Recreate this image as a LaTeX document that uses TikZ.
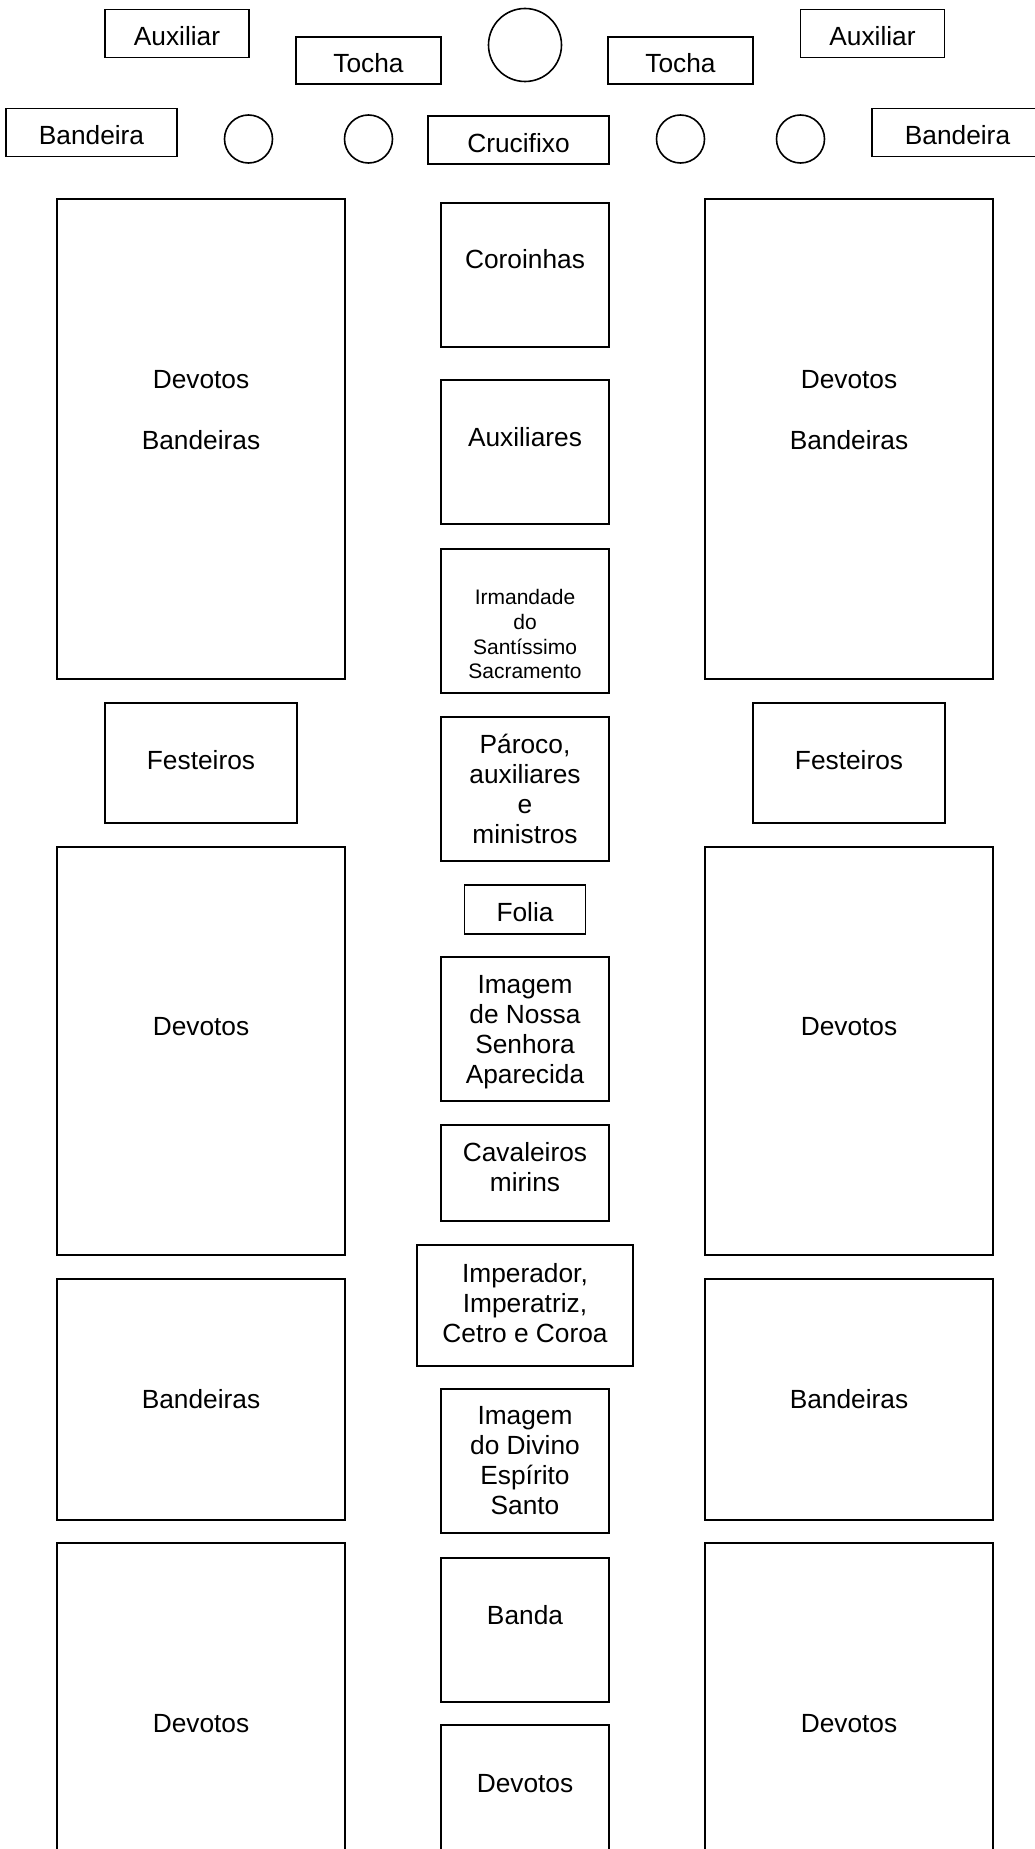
\documentclass[tikz,border=0pt]{standalone}
\usepackage{fontspec}
\setmainfont{Liberation Sans}
\usetikzlibrary{positioning}

\begin{document}
\begin{tikzpicture}[x=1pt,y=-1pt]
        \tikzset{block/.style={draw, rectangle, align=center, inner sep=0pt, outer sep=0pt, line width=1.6pt,
            font=\fontsize{26.3}{30}\selectfont},
        wide/.style={block, minimum width=288pt},
        lane/.style={block, minimum width=168pt, minimum height=144pt},
        small/.style={block, minimum width=144pt, minimum height=48pt, text height=25pt},
        torch/.style={draw, circle, inner sep=0pt, outer sep=0pt, line width=1.6pt, minimum size=48pt},
        lift/.style={text depth=#1},
        }
        \useasboundingbox (0,0) rectangle (1035,1849);
        \clip (0,0) rectangle (1035,1849);
%% front of the procession
        \node [torch, minimum size=73pt] (cruz) at (525,45) {};
        \node [small] (auxl) at (177,33.5) {Auxiliar};
        \node [small, minimum width=145pt, minimum height=47pt] (tochal) at (368.5,60.5) {Tocha};
        \node [small, minimum width=145pt, minimum height=47pt] (tochar) at (680.5,60.5) {Tocha};
        \node [small] (auxr) at (872.5,33.5) {Auxiliar};
        \node [small, minimum width=171pt] (bandl) at (91.5,132.5) {Bandeira};
        \node [small, minimum width=171pt] (bandr) at (957.5,132.5) {Bandeira};
        \node [torch] (vela1) at (248.5,139) {};
        \node [torch] (vela2) at (368.5,139) {};
        \node [small, minimum width=181pt] (crucifixo) at (518.5,140) {Crucifixo};
        \node [torch] (vela3) at (680.5,139) {};
        \node [torch] (vela4) at (800.5,139) {};
%% middle lane
        \node [lane, lift=32pt] (coro) at (525,275) {Coroinhas};
        \node [lane, lift=31pt, below=33pt of coro] (auxs) {Auxiliares};
        \node [lane, font=\fontsize{21}{24.8}\selectfont, text height=115.7pt, lift=0pt, below=25pt of auxs] (irm)
            {Irmandade\\do\\Santíssimo\\Sacramento};
        \node [lane, below=24pt of irm] (paroco) {Pároco,\\auxiliares\\e\\ministros};
        \node [block, minimum width=121pt, minimum height=49pt, text height=24pt, below=24pt of paroco] (folia) {Folia};
        \node [lane, lift=0pt, below=23pt of folia] (nossa) {Imagem\\de Nossa\\Senhora\\Aparecida};
        \node [lane, minimum height=96pt, lift=13pt, below=24pt of nossa] (cav) {Cavaleiros\\mirins};
        \node [lane, minimum width=216pt, minimum height=121pt, lift=5pt, below=24pt of cav] (imp)
            {Imperador,\\Imperatriz,\\Cetro e Coroa};
        \node [lane, below=23pt of imp] (divino) {Imagem\\do Divino\\Espírito\\Santo};
        \node [lane, lift=30pt, below=25pt of divino] (banda) {Banda};
        \node [lane, lift=28pt, below=23pt of banda] (devc) {Devotos};
%% left side
        \node [wide, minimum height=480pt, lift=59pt] (devl) at (201,439) {Devotos\\[31pt]Bandeiras};
        \node [block, minimum width=192pt, minimum height=120pt, lift=6pt, below=24pt of devl] (festl) {Festeiros};
        \node [wide, minimum height=408pt, lift=50pt, below=24pt of festl] (devl2) {Devotos};
        \node [wide, minimum height=241pt, below=24pt of devl2] (bandeirasl) {Bandeiras};
        \node [wide, minimum height=410pt, lift=50pt, below=23pt of bandeirasl] (devl3) {Devotos};
%% right side
        \node [wide, minimum height=480pt, lift=59pt] (devr) at (849,439) {Devotos\\[31pt]Bandeiras};
        \node [block, minimum width=192pt, minimum height=120pt, lift=6pt, below=24pt of devr] (festr) {Festeiros};
        \node [wide, minimum height=408pt, lift=50pt, below=24pt of festr] (devr2) {Devotos};
        \node [wide, minimum height=241pt, below=24pt of devr2] (bandeirasr) {Bandeiras};
        \node [wide, minimum height=410pt, lift=50pt, below=23pt of bandeirasr] (devr3) {Devotos};
    \end{tikzpicture}
\end{document}
